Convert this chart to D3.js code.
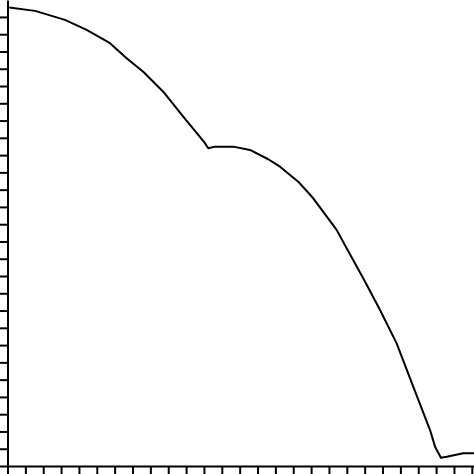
<!DOCTYPE html>
<html>
<head>
<meta charset="utf-8">
<script src="https://cdn.jsdelivr.net/npm/d3@7"></script>
<style>
  body { margin: 0; background: #fff; }
  svg { display: block; }
</style>
</head>
<body>
<div id="chart"></div>
<script>
var width = 474,
    height = 474;

// values (axis units = one tick step)
var xValues = [0.1, 1.54, 3.22, 4.43, 5.74, 6.67, 7.60, 8.72, 9.84, 11.06, 11.24, 11.62, 12.64, 13.58, 14.60, 15.26, 16.28, 17.12, 18.43, 18.99, 19.92, 20.86, 21.79, 22.72, 23.66, 23.94, 24.27, 24.59, 25.52, 26.15];
var yValues = [26.55, 26.35, 25.83, 25.25, 24.48, 23.61, 22.83, 21.67, 20.23, 18.69, 18.40, 18.49, 18.49, 18.30, 17.76, 17.33, 16.46, 15.50, 13.67, 12.61, 10.87, 9.03, 7.10, 4.59, 2.08, 1.12, 0.48, 0.54, 0.74, 0.74];
var xTicks = d3.range(0, 27);
var yTicks = d3.range(0, 27);

var svg = d3.select("#chart").append("svg")
    .attr("width", width)
    .attr("height", height)

var x = d3.scaleLinear().domain([0, 26.15]).range([7.5, 474.5])
var y = d3.scaleLinear().domain([0, 26.98]).range([466, 0])

/* axes: outward ticks, no labels */
svg.append("g")
    .attr("transform", "translate(0,466)")
    .call(d3.axisBottom(x).tickValues(xTicks).tickSize(8).tickSizeOuter(0).tickFormat(""))

svg.append("g")
    .attr("transform", "translate(7.5,0)")
    .call(d3.axisLeft(y).tickValues(yTicks).tickSize(8).tickSizeOuter(0).tickFormat(""))

svg.selectAll(".domain, .tick line")
    .attr("stroke", "#000")
    .attr("stroke-width", 2)

var points = xValues.map(function(d, i){ return [d, yValues[i]] })

svg.append("path")
    .datum(points)
    .attr("fill", "none")
    .attr("stroke", "#000")
    .attr("stroke-width", 2)
    .attr("stroke-linejoin", "round")
    .attr("d", d3.line()
        .x(function(d){ return x(d[0]) })
        .y(function(d){ return y(d[1]) }))
</script>
</body>
</html>
